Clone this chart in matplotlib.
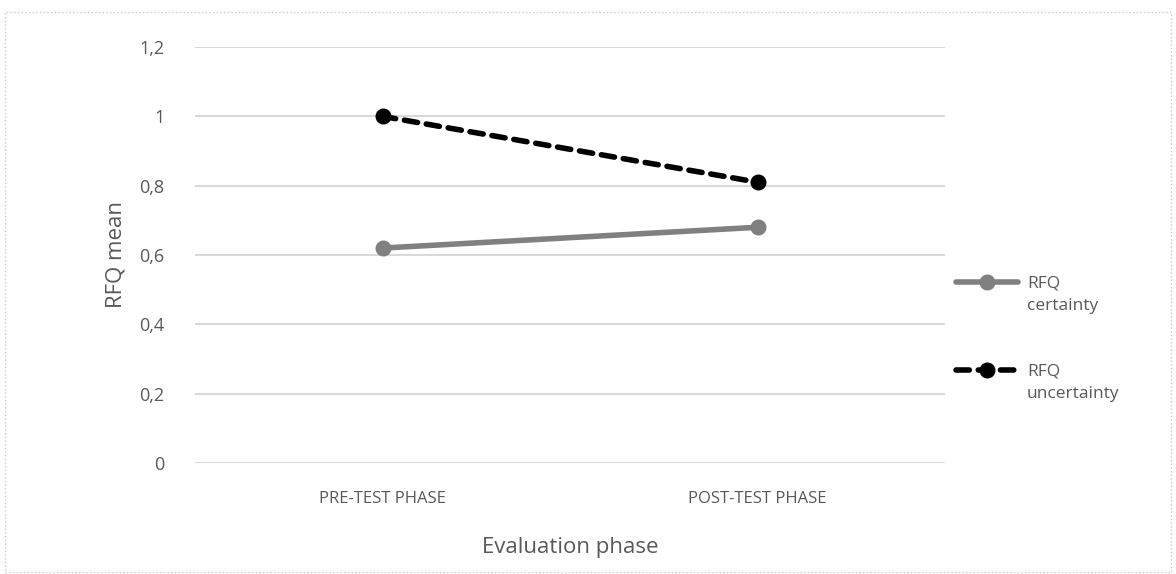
import matplotlib
matplotlib.use('Agg')
import matplotlib.pyplot as plt
from matplotlib.patches import Rectangle
from matplotlib.ticker import FuncFormatter
from matplotlib.transforms import ScaledTranslation

plt.rcParams['font.family'] = ['Open Sans', 'DejaVu Sans']

phases = ["PRE-TEST PHASE", "POST-TEST PHASE"]
certainty = [0.62, 0.68]
uncertainty = [1.0, 0.81]
yticks = [0, 0.2, 0.4, 0.6, 0.8, 1.0, 1.2]

text_col = '#595959'
grid_col = '#d9d9d9'

fig = plt.figure(figsize=(11.76, 5.74), dpi=100)
ax = fig.add_axes([195/1176, 1 - 463/574, 750/1176, (463 - 47)/574])

x = range(len(phases))
ax.plot(x, certainty, color='#808080', lw=4, marker='o', ms=10.5,
        label='RFQ\ncertainty', solid_capstyle='round')
ax.plot(x, uncertainty, color='black', lw=4, marker='o', ms=10.5,
        ls=(0, (2.4, 1.6)), dash_capstyle='round', label='RFQ\nuncertainty')

ax.set_xlim(-0.5, 1.5)
ax.set_ylim(0, 1.2)
ax.set_yticks(yticks)
ax.yaxis.set_major_formatter(FuncFormatter(lambda v, p: f"{v:g}".replace('.', ',')))
ax.set_xticks(list(x))
ax.set_xticklabels(phases, fontsize=12, color=text_col)
ax.tick_params(axis='y', labelsize=13, colors=text_col, length=0, pad=22)
ax.tick_params(axis='x', length=0, pad=20)
ax.grid(axis='y', color=grid_col, lw=1.5)
ax.set_axisbelow(True)
for s in ax.spines.values():
    s.set_visible(False)

ax.set_ylabel("RFQ mean", fontsize=16, color=text_col, labelpad=9)
ax.set_xlabel("Evaluation phase", fontsize=16, color=text_col, labelpad=22)

leg = fig.legend(loc='upper left', bbox_to_anchor=(940/1176, 1 - 247/574),
                 frameon=False, fontsize=12.5, handlelength=3.6,
                 labelspacing=2.9, handletextpad=0.5)
# push each label down so its first line sits level with the marker
shift = ScaledTranslation(0, -0.13, fig.dpi_scale_trans)
for t in leg.get_texts():
    t.set_color(text_col)
    t.set_linespacing(1.5)
    t.set_transform(t.get_transform() + shift)

fig.patches.append(Rectangle((0.004, 0.004), 0.992, 0.975, transform=fig.transFigure,
                             fill=False, ls=':', lw=1, ec='#c8c8c8'))

fig.savefig("out.png", dpi=100)
